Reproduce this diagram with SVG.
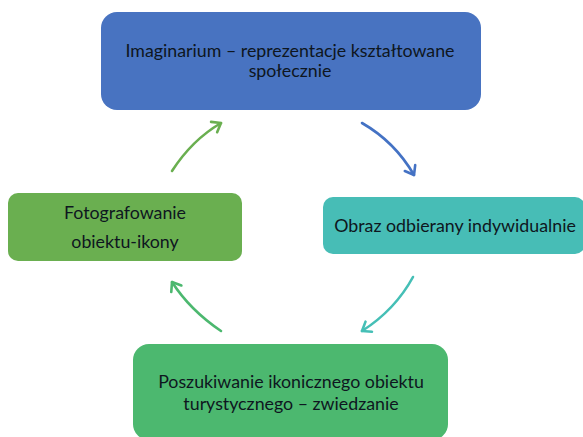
<svg xmlns="http://www.w3.org/2000/svg" width="583" height="437" viewBox="0 0 583 437">
<style>
text{font-family:Lato,"Open Sans","Liberation Sans",sans-serif;font-size:17.8px;fill:#0e1620;text-anchor:middle}
.conn path{fill:none;stroke-width:2.6;stroke-linecap:round}
</style>
<defs>
<marker id="mBlue" markerUnits="userSpaceOnUse" markerWidth="16" markerHeight="16" refX="11" refY="7" orient="auto" overflow="visible"><path d="M3,1 L11,7 L3,13" fill="none" stroke="#4472c4" stroke-width="2.6" stroke-linecap="round" stroke-linejoin="round"/></marker>
<marker id="mTeal" markerUnits="userSpaceOnUse" markerWidth="16" markerHeight="16" refX="11" refY="7" orient="auto" overflow="visible"><path d="M3,1 L11,7 L3,13" fill="none" stroke="#45bfb6" stroke-width="2.6" stroke-linecap="round" stroke-linejoin="round"/></marker>
<marker id="mGreen2" markerUnits="userSpaceOnUse" markerWidth="16" markerHeight="16" refX="11" refY="7" orient="auto" overflow="visible"><path d="M3,1 L11,7 L3,13" fill="none" stroke="#4cb86f" stroke-width="2.6" stroke-linecap="round" stroke-linejoin="round"/></marker>
<marker id="mGreen1" markerUnits="userSpaceOnUse" markerWidth="16" markerHeight="16" refX="11" refY="7" orient="auto" overflow="visible"><path d="M3,1 L11,7 L3,13" fill="none" stroke="#6aaf50" stroke-width="2.6" stroke-linecap="round" stroke-linejoin="round"/></marker>
</defs>
<g id="node-imaginarium">
<rect x="101" y="12" width="380" height="98" rx="16" fill="#4873c1"/>
<text x="290" y="57">Imaginarium – reprezentacje kształtowane</text>
<text x="290" y="77">społecznie</text>
</g>
<g id="node-obraz">
<rect x="323" y="197" width="262" height="57" rx="10" fill="#47bdb6"/>
<text x="455" y="232">Obraz odbierany indywidualnie</text>
</g>
<g id="node-poszukiwanie">
<rect x="133" y="344" width="315" height="96" rx="16" fill="#4cb86f"/>
<text x="291" y="388">Poszukiwanie ikonicznego obiektu</text>
<text x="291" y="410">turystycznego – zwiedzanie</text>
</g>
<g id="node-fotografowanie">
<rect x="8" y="193" width="234" height="68" rx="10" fill="#6aaf50"/>
<text x="125" y="219">Fotografowanie</text>
<text x="125" y="248">obiektu-ikony</text>
</g>
<g class="conn" id="connectors">
<path d="M362,123 Q395,142 414,175" stroke="#4472c4" marker-end="url(#mBlue)"/>
<path d="M413,277 Q395,310 362,331" stroke="#45bfb6" marker-end="url(#mTeal)"/>
<path d="M221,331 Q190,310 172,282" stroke="#4cb86f" marker-end="url(#mGreen2)"/>
<path d="M172,171 Q192,140 221,123" stroke="#6aaf50" marker-end="url(#mGreen1)"/>
</g>
</svg>
